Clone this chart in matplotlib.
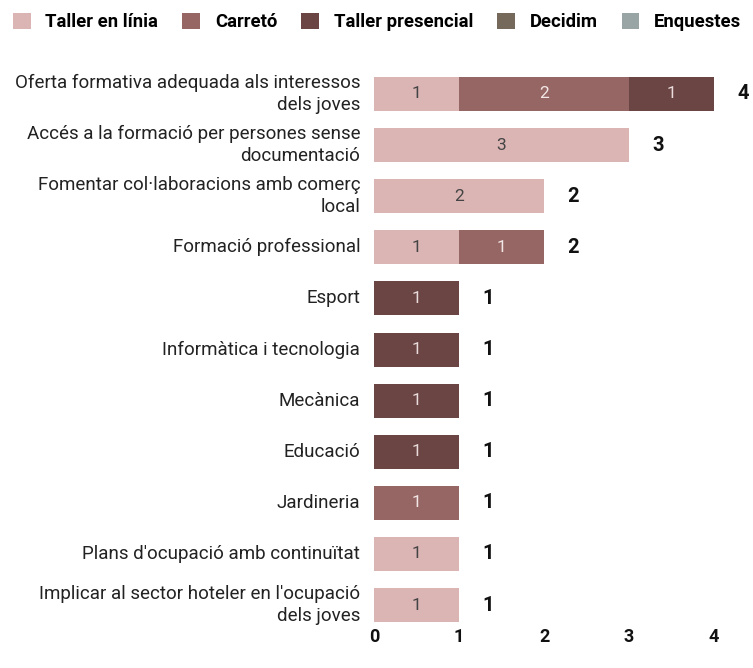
import matplotlib.pyplot as plt
import numpy as np

plt.rcParams['font.family'] = ['Roboto', 'DejaVu Sans']

categories = [
    "Oferta formativa adequada als interessos\ndels joves",
    "Accés a la formació per persones sense\ndocumentació",
    "Fomentar col·laboracions amb comerç\nlocal",
    "Formació professional",
    "Esport",
    "Informàtica i tecnologia",
    "Mecànica",
    "Educació",
    "Jardineria",
    "Plans d'ocupació amb continuïtat",
    "Implicar al sector hoteler en l'ocupació\ndels joves",
]
series_names = ["Taller en línia", "Carretó", "Taller presencial", "Decidim", "Enquestes"]
taller_linia = [1, 3, 2, 1, 0, 0, 0, 0, 0, 1, 1]
carreto = [2, 0, 0, 1, 0, 0, 0, 0, 1, 0, 0]
taller_presencial = [1, 0, 0, 0, 1, 1, 1, 1, 0, 0, 0]
decidim = [0] * 11
enquestes = [0] * 11

colors = ["#dbb4b4", "#956664", "#6b4444", "#75695b", "#99a5a5"]
text_colors = ["#444444", "#f3e6e6", "#eadcdc", "#ffffff", "#ffffff"]

series = [taller_linia, carreto, taller_presencial, decidim, enquestes]

fig = plt.figure(figsize=(7.53, 6.68), dpi=100)
ax = fig.add_axes([0.4967, 0.0636, 0.4515, 0.834])

y = np.arange(len(categories))
left = np.zeros(len(categories))
handles = []
for name, vals, c, tc in zip(series_names, series, colors, text_colors):
    vals = np.array(vals, dtype=float)
    h = ax.barh(y, vals, left=left, height=0.665, color=c, label=name)
    handles.append(h)
    for yi, v, l in zip(y, vals, left):
        if v > 0:
            ax.text(l + v / 2, yi, f"{int(v)}", ha="center", va="center",
                    fontsize=12.5, color=tc)
    left += vals

for yi, tot in zip(y, left):
    ax.text(tot + 0.34, yi, f"{int(tot)}", ha="center", va="center",
            fontsize=14.5, fontweight="bold", color="#111111")

ax.set_xlim(0, 4)
ax.set_ylim(10.4, -0.5)
ax.set_yticks(y)
ax.set_yticklabels(categories, fontsize=13.5, color="#222222", linespacing=1.3)
for lab in ax.get_yticklabels():
    lab.set_verticalalignment("center")
ax.set_xticks([0, 1, 2, 3, 4])
ax.set_xticklabels(["0", "1", "2", "3", "4"], fontsize=13, fontweight="bold",
                   color="#111111")
ax.tick_params(axis="both", length=0)
ax.tick_params(axis="x", pad=2)
ax.tick_params(axis="y", pad=10)
for s in ax.spines.values():
    s.set_visible(False)

fig.legend(handles=handles, labels=series_names, loc="upper left",
           bbox_to_anchor=(0.0, 1.0), ncol=5, frameon=False,
           prop={"weight": "bold", "size": 13.3}, handlelength=0.96,
           handleheight=0.96, handletextpad=0.8, columnspacing=1.3,
           borderaxespad=0.1, borderpad=0.6)

fig.savefig("out.png", dpi=100)
